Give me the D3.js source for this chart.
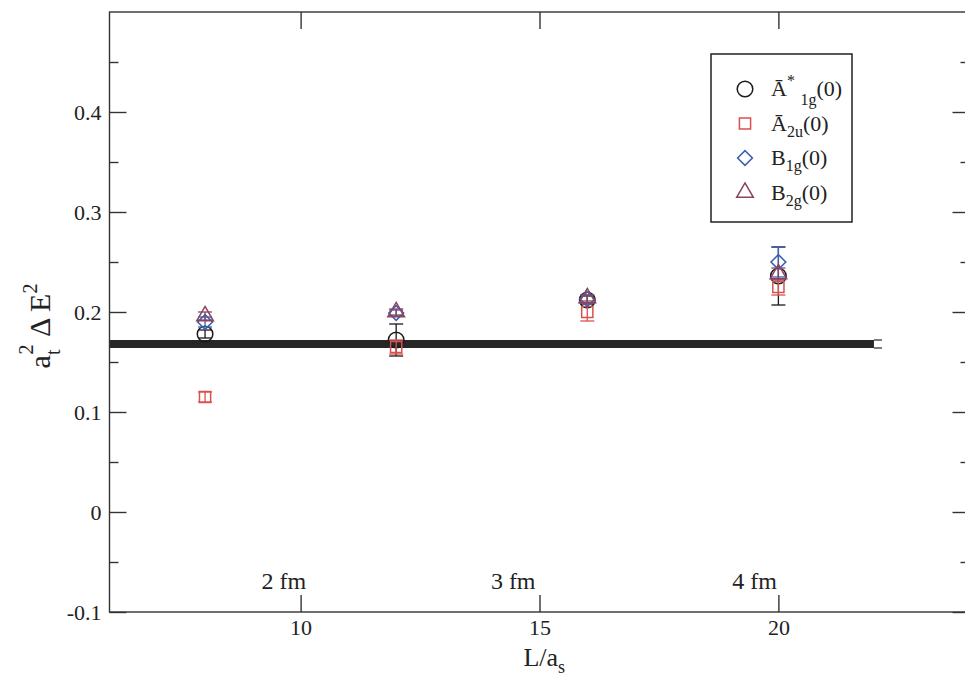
<!DOCTYPE html>
<html lang="en">
<head>
<meta charset="UTF-8">
<title>a_t^2 dE^2 vs L/a_s</title>
<script src="https://d3js.org/d3.v7.min.js"></script>
<style>
    body { margin: 0; background: #fff; }
    svg { display: block; }
    text { font-family: 'Liberation Serif', 'Times New Roman', Times, serif; fill: #222; }
    .axis path, .axis line { stroke: #333; stroke-width: 1.4px; }
    .axis text { font-size: 22px; font-family: 'Liberation Serif', 'Times New Roman', Times, serif; fill: #222; }
</style>
</head>
<body>
<svg width="965" height="679"></svg>
<script>
    // lattice sizes
    const sizes = [8, 12, 16, 20];

    // series values and errors
    const a1gVals = [0.178, 0.172, 0.212, 0.236];
    const a1gErr  = [0.004, 0.016, 0.004, 0.029];
    const a2uVals = [0.115, 0.165, 0.200, 0.225];
    const a2uErr  = [0.005, 0.007, 0.009, 0.008];
    const b1gVals = [0.190, 0.199, 0.213, 0.250];
    const b1gErr  = [0.005, 0.003, 0.004, 0.015];
    const b2gVals = [0.196, 0.200, 0.214, 0.238];
    const b2gErr  = [0.004, 0.003, 0.003, 0.006];

    // continuum band
    const bandX = [6, 22];
    const bandY = [0.164, 0.172];

    // tick values and physical size labels
    const xTicks = [10, 15, 20];
    const yTicks = [-0.1, 0, 0.1, 0.2, 0.3, 0.4];
    const yMinor = [-0.05, 0.05, 0.15, 0.25, 0.35, 0.45];
    const fmLabels = ['2 fm', '3 fm', '4 fm'];
    const fmPos = [9.65, 14.45, 19.5];

    // legend text pieces: [text, baseline shift, font size]
    const legendRows = [
        [['Ā', 0, 22], ['*', -10, 16], [' ', 0, 22], ['1g', 9, 16], ['(0)', 0, 22]],
        [['Ā', 0, 22], ['2u', 6, 16], ['(0)', 0, 22]],
        [['B', 0, 22], ['1g', 6, 16], ['(0)', 0, 22]],
        [['B', 0, 22], ['2g', 6, 16], ['(0)', 0, 22]]
    ];

    // rot: extra rotation so the diamond is a square on its corner
    const series = [
        { sym: d3.symbolCircle, rot: 0, color: '#1a1a1a', vals: a1gVals, err: a1gErr, size: 190 },
        { sym: d3.symbolSquare, rot: 0, color: '#d9504f', vals: a2uVals, err: a2uErr, size: 125 },
        { sym: d3.symbolSquare, rot: 45, color: '#3a5fb0', vals: b1gVals, err: b1gErr, size: 110 },
        { sym: d3.symbolTriangle, rot: 0, color: '#8a4460', vals: b2gVals, err: b2gErr, size: 120 }
    ];

    const mLeft = 109.5, mRight = 969.5, mTop = 12, mBottom = 612;

    const x = d3.scaleLinear().domain([6, 24]).range([mLeft, mRight]);
    const y = d3.scaleLinear().domain([-0.1, 0.5]).range([mBottom, mTop]);

    const svg = d3.select('svg');

    // band
    svg.append('rect')
        .attr('x', x(bandX[0]))
        .attr('y', y(bandY[1]))
        .attr('width', x(bandX[1]) - x(bandX[0]))
        .attr('height', y(bandY[0]) - y(bandY[1]))
        .attr('fill', '#262626');
    bandY.forEach(v => {
        svg.append('line')
            .attr('x1', x(bandX[1])).attr('x2', x(bandX[1]) + 8)
            .attr('y1', y(v)).attr('y2', y(v))
            .attr('stroke', '#333').attr('stroke-width', 1.3);
    });

    // axes (ticks point inward)
    svg.append('g').attr('class', 'axis')
        .attr('transform', `translate(0,${mBottom})`)
        .call(d3.axisBottom(x).tickValues(xTicks).tickSize(-17).tickPadding(7).tickFormat(d3.format('d')));
    svg.append('g').attr('class', 'axis')
        .attr('transform', `translate(0,${mTop})`)
        .call(d3.axisTop(x).tickValues(xTicks).tickSize(-17).tickFormat(''));
    svg.append('g').attr('class', 'axis')
        .attr('transform', `translate(${mLeft},0)`)
        .call(d3.axisLeft(y).tickValues(yTicks).tickSize(-17).tickPadding(8)
            .tickFormat(d => d === 0 ? '0' : d3.format('.1f')(d).replace('−', '-')));
    svg.append('g').attr('class', 'axis')
        .attr('transform', `translate(${mLeft},0)`)
        .call(d3.axisLeft(y).tickValues(yMinor).tickSize(-9).tickFormat(''));
    svg.append('g').attr('class', 'axis')
        .attr('transform', `translate(${mRight},0)`)
        .call(d3.axisRight(y).tickValues(yTicks).tickSize(-17).tickFormat(''));
    svg.append('g').attr('class', 'axis')
        .attr('transform', `translate(${mRight},0)`)
        .call(d3.axisRight(y).tickValues(yMinor).tickSize(-9).tickFormat(''));
    svg.selectAll('.axis .domain').remove();

    svg.append('rect')
        .attr('x', mLeft).attr('y', mTop)
        .attr('width', mRight - mLeft).attr('height', mBottom - mTop)
        .attr('fill', 'none').attr('stroke', '#333').attr('stroke-width', 1.4);

    // fm labels
    svg.selectAll('.fm').data(fmLabels).enter().append('text')
        .attr('class', 'fm')
        .attr('x', (d, i) => x(fmPos[i]))
        .attr('y', 589)
        .attr('text-anchor', 'middle')
        .attr('font-size', 24)
        .text(d => d);

    // data: error bars then symbols
    series.forEach(s => {
        const g = svg.append('g');
        sizes.forEach((L, i) => {
            const cx = x(L), lo = y(s.vals[i] - s.err[i]), hi = y(s.vals[i] + s.err[i]);
            g.append('line').attr('x1', cx).attr('x2', cx).attr('y1', lo).attr('y2', hi)
                .attr('stroke', s.color).attr('stroke-width', 1.3);
            [lo, hi].forEach(yy => g.append('line')
                .attr('x1', cx - 7).attr('x2', cx + 7).attr('y1', yy).attr('y2', yy)
                .attr('stroke', s.color).attr('stroke-width', 1.3));
            g.append('path')
                .attr('d', d3.symbol().type(s.sym).size(s.size)())
                .attr('transform', `translate(${cx},${y(s.vals[i])}) rotate(${s.rot})`)
                .attr('fill', 'none')
                .attr('stroke', s.color)
                .attr('stroke-width', 1.5);
        });
    });

    // legend
    const lg = svg.append('g');
    lg.append('rect').attr('x', 711).attr('y', 54).attr('width', 141).attr('height', 168)
        .attr('fill', '#fff').attr('stroke', '#222').attr('stroke-width', 1.5);
    series.forEach((s, i) => {
        const ry = 89 + i * 34.5;
        lg.append('path')
            .attr('d', d3.symbol().type(s.sym).size(s.size)())
            .attr('transform', `translate(745,${ry}) rotate(${s.rot})`)
            .attr('fill', 'none').attr('stroke', s.color).attr('stroke-width', 1.5);
        const t = lg.append('text').attr('x', 771).attr('y', ry + 7).attr('font-size', 22);
        let shift = 0;
        legendRows[i].forEach(p => {
            t.append('tspan').attr('dy', p[1] - shift).attr('font-size', p[2]).text(p[0]);
            shift = p[1];
        });
    });

    // axis titles
    svg.append('text')
        .attr('transform', 'translate(50,326) rotate(-90)')
        .attr('text-anchor', 'middle')
        .attr('font-size', 30)
        .html('a<tspan dy="10" font-size="20">t</tspan><tspan dy="-27" dx="-5" font-size="20">2</tspan><tspan dy="17"> Δ E</tspan><tspan dy="-13" font-size="20">2</tspan>');

    svg.append('text')
        .attr('x', x(15.1))
        .attr('y', 666)
        .attr('text-anchor', 'middle')
        .attr('font-size', 26)
        .html('L/a<tspan dy="7" font-size="18">s</tspan>');
</script>
</body>
</html>
